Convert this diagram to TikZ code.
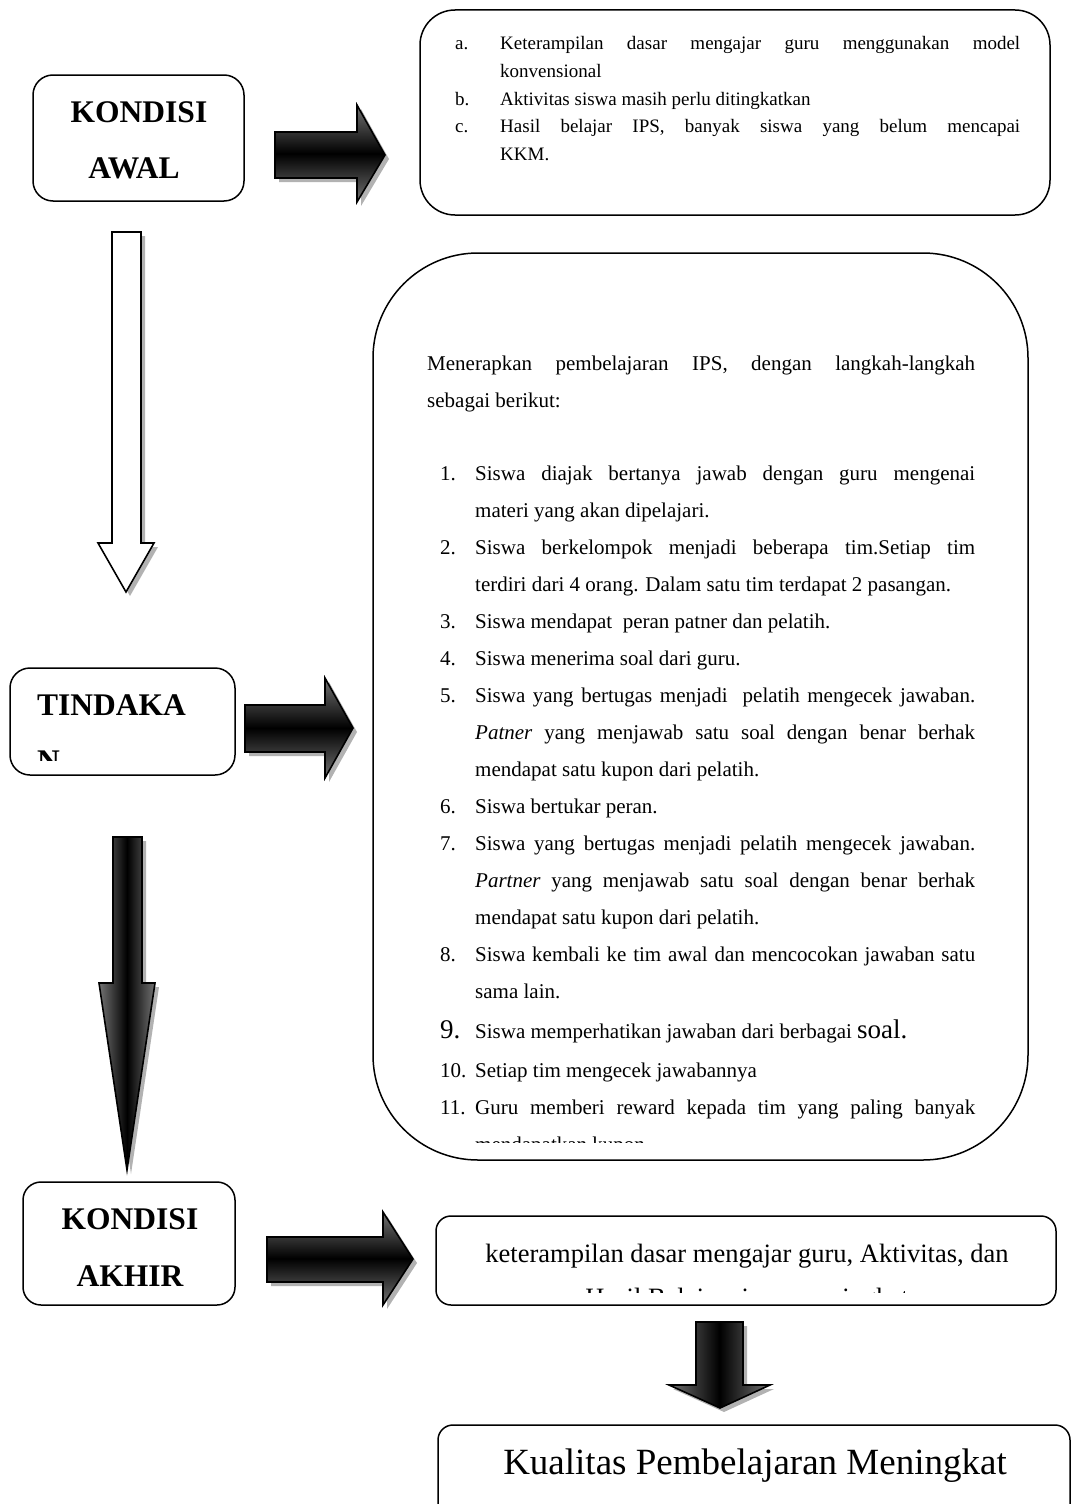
\documentclass[tikz,border=0pt]{standalone}
\usepackage{fontspec}
\setmainfont{Liberation Serif}
\usetikzlibrary{shadows}

\newcommand{\listsize}{\fontsize{21}{25}\selectfont}
\newcommand{\notesize}{\fontsize{19}{23}\selectfont}
\newcommand{\bigsize}{\fontsize{27}{30}\selectfont}
\newcommand{\headsize}{\fontsize{31.5}{36}\selectfont\bfseries}
\newcommand{\jline}[2]{\makebox[#1pt][s]{#2}}

\tikzset{
  box/.style={draw, line width=1.5pt, rounded corners=#1, inner sep=0pt, outer sep=0pt},
  box/.default=20pt,
  arrowshadow/.style={drop shadow={shadow xshift=4pt, shadow yshift=-4pt, opacity=0.3, fill=black}},
  blockright/.style={draw, line width=1.6pt, top color=black!55, bottom color=black!55, middle color=black, arrowshadow},
  blockdown/.style={draw, line width=1.6pt, left color=black!55, right color=black!55, middle color=black, arrowshadow},
  hollowdown/.style={draw, line width=1.6pt, fill=white, arrowshadow},
  head/.style={anchor=base, inner sep=0pt, font=\headsize},
  txt/.style={anchor=base west, inner sep=0pt, font=\listsize},
  note/.style={anchor=base west, inner sep=0pt, font=\notesize},
}

\begin{document}
\begin{tikzpicture}[x=1pt, y=-1pt]
	\useasboundingbox (0,0) rectangle (1071,1504);
	\clip (0,0) rectangle (1071,1504);

	% boxes
	\node[box, minimum width=211pt, minimum height=126pt] (awal) at (138.5,138) {};
	\node[box=35pt, minimum width=630pt, minimum height=205pt] (masalah) at (735,112.5) {};
	\node[box, minimum width=225pt, minimum height=107pt] (tindakan) at (122.5,721.5) {};
	\node[box=105pt, minimum width=655pt, minimum height=907pt] (langkah) at (700.5,706.5) {};
	\node[box=18pt, minimum width=212pt, minimum height=123pt] (akhir) at (129,1243.5) {};
	\node[box=15pt, minimum width=620pt, minimum height=89pt] (hasil) at (746,1260.5) {};
	\node[box=15pt, minimum width=632pt, minimum height=105pt] (kualitas) at (754,1477.5) {};

	% block arrows
	\draw[blockright] (275,132) -- (357,132) -- (357,105) -- (385,155) -- (357,202) -- (357,178) -- (275,178) -- cycle;
	\draw[blockright] (245,705) -- (325,705) -- (325,678) -- (353,728) -- (325,778) -- (325,752) -- (245,752) -- cycle;
	\draw[blockright] (267,1237) -- (383,1237) -- (383,1212) -- (413,1259) -- (383,1305) -- (383,1282) -- (267,1282) -- cycle;
	\draw[hollowdown] (112,232) -- (141,232) -- (141,543) -- (154,543) -- (126,592) -- (98,543) -- (112,543) -- cycle;
	\draw[blockdown] (113,837) -- (142,837) -- (142,983) -- (155,983) -- (127,1170) -- (99,983) -- (113,983) -- cycle;
	\draw[blockdown] (696,1322) -- (743,1322) -- (743,1385) -- (770,1385) -- (720,1408) -- (669,1385) -- (696,1385) -- cycle;

	% headings
	\node[head] (awal1) at (139,122) {KONDISI};
	\node[head] (awal2) at (134,178) {AWAL};
	\begin{scope}
		\clip (10,668) rectangle (235,760);
		\node[head, anchor=base west] (tind1) at (37,715) {TINDAKA};
		\node[head, anchor=base west] (tind2) at (37,771) {N};
	\end{scope}
	\node[head] (akhir1) at (130,1229) {KONDISI};
	\node[head] (akhir2) at (130,1286) {AKHIR};

	% kondisi awal
	\node[note] (ma) at (455,50) {a.};
	\node[note] (ma1) at (500,50) {\jline{520}{Keterampilan dasar mengajar guru menggunakan model}};
	\node[note] (ma2) at (500,77.5) {konvensional};
	\node[note] (mb) at (455,105) {b.};
	\node[note] (mb1) at (500,105) {Aktivitas siswa masih perlu ditingkatkan};
	\node[note] (mc) at (455,132.5) {c.};
	\node[note] (mc1) at (500,132.5) {\jline{520}{Hasil belajar IPS, banyak siswa yang belum mencapai}};
	\node[note] (mc2) at (500,160) {KKM.};

	% langkah-langkah
	\node[txt] (intro1) at (427,370) {\jline{548}{Menerapkan pembelajaran IPS, dengan langkah-langkah}};
	\node[txt] (intro2) at (427,407) {sebagai berikut:};
	\node[txt] (n1) at (440,480) {1.};
	\node[txt] (l1a) at (475,480) {\jline{500}{Siswa diajak bertanya jawab dengan guru mengenai}};
	\node[txt] (l1b) at (475,517) {materi yang akan dipelajari.};
	\node[txt] (n2) at (440,554) {2.};
	\node[txt] (l2a) at (475,554) {\jline{500}{Siswa berkelompok menjadi beberapa tim.Setiap tim}};
	\node[txt] (l2b) at (475,591) {terdiri dari 4 orang. Dalam satu tim terdapat 2 pasangan.};
	\node[txt] (n3) at (440,628) {3.};
	\node[txt] (l3a) at (475,628) {Siswa mendapat\ \ peran patner dan pelatih.};
	\node[txt] (n4) at (440,665) {4.};
	\node[txt] (l4a) at (475,665) {Siswa menerima soal dari guru.};
	\node[txt] (n5) at (440,702) {5.};
	\node[txt] (l5a) at (475,702) {\jline{500}{Siswa yang bertugas menjadi\ \ pelatih mengecek jawaban.}};
	\node[txt] (l5b) at (475,739) {\jline{500}{\textit{Patner} yang menjawab satu soal dengan benar berhak}};
	\node[txt] (l5c) at (475,776) {mendapat satu kupon dari pelatih.};
	\node[txt] (n6) at (440,813) {6.};
	\node[txt] (l6a) at (475,813) {Siswa bertukar peran.};
	\node[txt] (n7) at (440,850) {7.};
	\node[txt] (l7a) at (475,850) {\jline{500}{Siswa yang bertugas menjadi pelatih mengecek jawaban.}};
	\node[txt] (l7b) at (475,887) {\jline{500}{\textit{Partner} yang menjawab satu soal dengan benar berhak}};
	\node[txt] (l7c) at (475,924) {mendapat satu kupon dari pelatih.};
	\node[txt] (n8) at (440,961) {8.};
	\node[txt] (l8a) at (475,961) {\jline{500}{Siswa kembali ke tim awal dan mencocokan jawaban satu}};
	\node[txt] (l8b) at (475,998) {sama lain.};
	\node[txt, font=\bigsize] (n9) at (440,1038) {9.};
	\node[txt] (l9a) at (475,1038) {Siswa memperhatikan jawaban dari berbagai {\bigsize soal.}};
	\node[txt] (n10) at (440,1077) {10.};
	\node[txt] (l10a) at (475,1077) {Setiap tim mengecek jawabannya};
	\node[txt] (n11) at (440,1114) {11.};
	\node[txt] (l11a) at (475,1114) {\jline{500}{Guru memberi reward kepada tim yang paling banyak}};
	\begin{scope}
		\clip (380,1120) rectangle (1020,1142);
		\node[txt] (l11b) at (475,1151) {mendapatkan kupon.};
	\end{scope}

	% kondisi akhir
	\node[anchor=base, inner sep=0pt, font=\fontsize{26.5}{30}\selectfont] (hasil1) at (747,1262) {keterampilan dasar mengajar guru, Aktivitas, dan};
	\begin{scope}
		\clip (437,1216) rectangle (1056,1292);
		\node[anchor=base, inner sep=0pt, font=\fontsize{26.5}{30}\selectfont] (hasil2) at (747,1306) {Hasil Belajar siswa meningkat};
	\end{scope}
	\node[anchor=base, inner sep=0pt, font=\fontsize{37}{40}\selectfont] (kual1) at (755,1474) {Kualitas Pembelajaran Meningkat};
\end{tikzpicture}
\end{document}
